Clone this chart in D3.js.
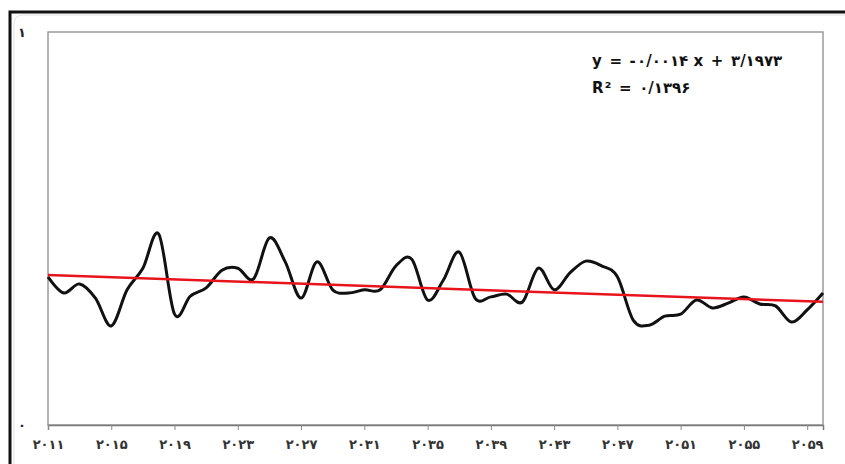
<!DOCTYPE html>
<html><head><meta charset="utf-8">
<script src="https://cdn.jsdelivr.net/npm/d3@7"></script>
<style>html,body{margin:0;padding:0;background:#fff;}svg{display:block;}</style>
</head><body>
<svg id="chart" width="845" height="464"></svg>
<script>
const years = d3.range(2011, 2061);
const values = [0.377,0.336,0.359,0.323,0.252,0.344,0.399,0.486,0.282,0.328,
                0.349,0.394,0.399,0.372,0.476,0.415,0.323,0.415,0.344,0.336,
                0.344,0.344,0.405,0.422,0.318,0.369,0.440,0.323,0.326,0.333,
                0.313,0.399,0.344,0.387,0.417,0.405,0.377,0.267,0.254,0.277,
                0.282,0.318,0.298,0.310,0.326,0.308,0.303,0.262,0.293,0.336];
const tickYears = [2011,2015,2019,2023,2027,2031,2035,2039,2043,2047,2051,2055,2059];
const tickLabels = ["۲۰۱۱","۲۰۱۵","۲۰۱۹","۲۰۲۳","۲۰۲۷","۲۰۳۱","۲۰۳۵","۲۰۳۹","۲۰۴۳","۲۰۴۷","۲۰۵۱","۲۰۵۵","۲۰۵۹"];
const yTickValues = [0, 1];
const yTickLabels = ["۰", "۱"];
const trendSlope = -0.0014;
const trendIntercept = 3.1973;
const equationLines = ["y = -۰/۰۰۱۴ x + ۳/۱۹۷۳", "R² = ۰/۱۳۹۶"];

const svg = d3.select("#chart");
// outer frame
svg.append("rect").attr("x", 10).attr("y", 12).attr("width", 845).attr("height", 470)
  .attr("fill", "#fff").attr("stroke", "#111").attr("stroke-width", 3);
svg.append("rect").attr("x", 14).attr("y", 15).attr("width", 840).attr("height", 470).attr("rx", 8)
  .attr("fill", "none").attr("stroke", "#e2e2e2").attr("stroke-width", 1);

const x = d3.scaleLinear().domain([2011, 2060]).range([48, 823]);
const y = d3.scaleLinear().domain([0, 1]).range([425, 32]);

// plot area border
svg.append("rect").attr("x", x(2011)).attr("y", y(1)).attr("width", x(2060) - x(2011)).attr("height", y(0) - y(1))
  .attr("fill", "none").attr("stroke", "#9a9a9a").attr("stroke-width", 1.5);

// x axis
const xAxis = d3.axisBottom(x).tickValues(tickYears).tickSize(5).tickPadding(10)
  .tickFormat((d, i) => tickLabels[i]);
const gx = svg.append("g").attr("transform", `translate(0,${y(0)})`).call(xAxis);
gx.select(".domain").attr("stroke", "#7a7a7a").attr("stroke-width", 1.5);
gx.selectAll(".tick line").attr("stroke", "#8a8a8a");
gx.selectAll(".tick text").attr("fill", "#333").attr("font-family", "DejaVu Sans, sans-serif")
  .attr("font-size", 13).attr("font-weight", "bold").attr("letter-spacing", 2.5);

// y labels
const yAxis = d3.axisLeft(y).tickValues(yTickValues).tickSize(0).tickPadding(22)
  .tickFormat((d, i) => yTickLabels[i]);
const gy = svg.append("g").attr("transform", `translate(${x(2011)},0)`).call(yAxis);
gy.select(".domain").remove();
gy.selectAll(".tick text").attr("fill", "#222").attr("font-family", "DejaVu Sans, sans-serif")
  .attr("font-size", 13).attr("font-weight", "bold");

// data line
const data = years.map((yr, i) => ({yr, v: values[i]}));
const line = d3.line().x(d => x(d.yr)).y(d => y(d.v)).curve(d3.curveCardinal.tension(0));
svg.append("path").datum(data).attr("d", line).attr("fill", "none")
  .attr("stroke", "#111").attr("stroke-width", 3).attr("stroke-linejoin", "round");

// trend line
const trend = [2011, 2060].map(yr => ({yr, v: trendSlope * yr + trendIntercept}));
svg.append("path").datum(trend).attr("d", d3.line().x(d => x(d.yr)).y(d => y(d.v)))
  .attr("fill", "none").attr("stroke", "#e8141c").attr("stroke-width", 2.5);

// equation
svg.selectAll("text.eq").data(equationLines).enter().append("text").attr("class", "eq")
  .attr("x", 592).attr("y", (d, i) => 66 + i * 27)
  .attr("font-family", "DejaVu Sans, sans-serif").attr("font-size", 15).attr("font-weight", "bold")
  .attr("letter-spacing", 1.2)
  .attr("fill", "#111").style("direction", "ltr").text(d => d);
</script>
</body></html>
